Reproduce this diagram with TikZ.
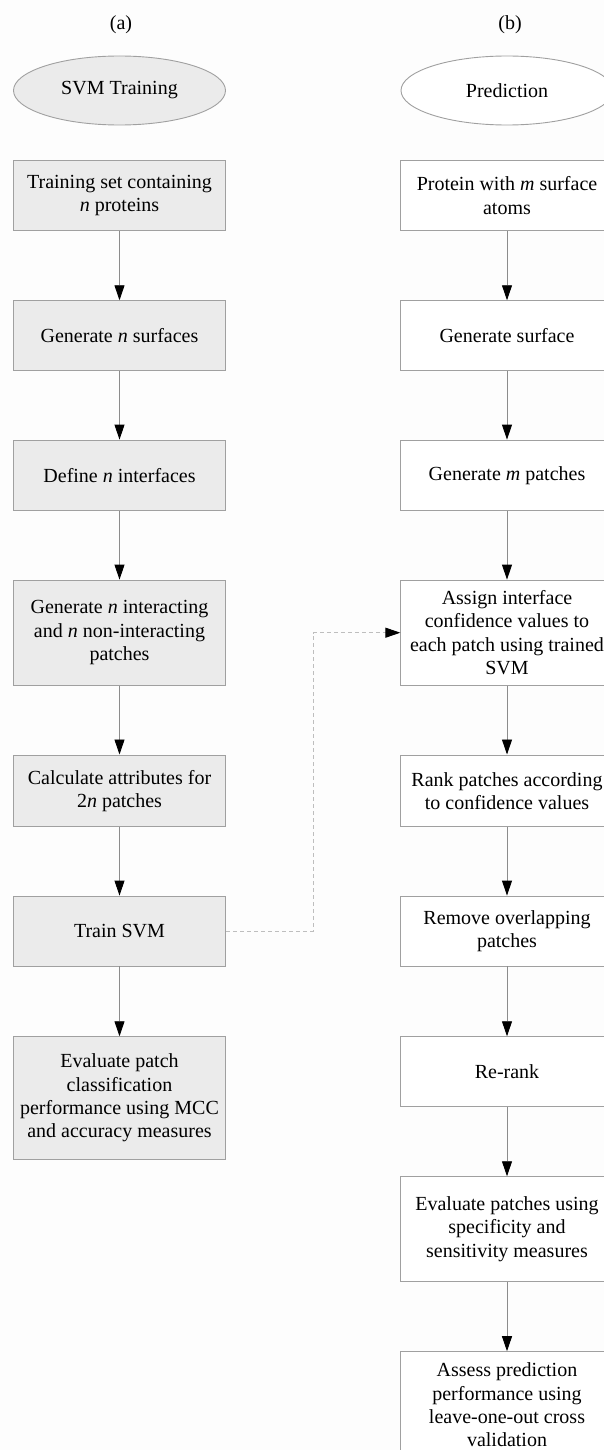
\documentclass[tikz,border=0pt]{standalone}
\usepackage{fontspec}
\setmainfont{Liberation Serif}
\usetikzlibrary{shapes.geometric,arrows.meta}
\definecolor{bg}{RGB}{253,253,253}
\definecolor{boxgray}{RGB}{235,235,235}
\definecolor{edgegray}{RGB}{160,160,160}
\definecolor{linegray}{RGB}{140,140,140}
\definecolor{dashgray}{RGB}{190,190,190}
\tikzset{
  every node/.style={font=\fontsize{20}{23.3}\selectfont},
  basebox/.style={rectangle, draw=edgegray, line width=0.9pt, minimum width=212.4pt, align=center, inner sep=0pt},
  lbox/.style={basebox, fill=boxgray},
  rbox/.style={basebox, fill=white},
  oval/.style={ellipse, draw=edgegray, line width=0.9pt, minimum width=212pt, minimum height=69pt, inner sep=0pt},
  flow/.style={draw=linegray, line width=0.9pt, -{Triangle[length=15pt,width=10pt,color=black,fill=black]}},
  link/.style={draw=dashgray, line width=1pt, dash pattern=on 4pt off 3pt, -{Triangle[length=15pt,width=10pt,color=black,fill=black]}},
  lbl/.style={inner sep=0pt}
}
\begin{document}
\begin{tikzpicture}[x=1pt,y=-1pt]
\useasboundingbox (0,0) rectangle (604,1450);
\clip (0,0) rectangle (604,1450);
\fill[bg] (0,0) rectangle (604,1450);

\node[lbl] (la) at (121,25) {(a)};
\node[lbl] (lb) at (510,25) {(b)};

\node[oval, fill=boxgray] (E1) at (119.5,90.5) {SVM Training};
\node[oval, fill=white] (E2) at (507,90.5) {Prediction};

% left column
\node[lbox, minimum height=70.4pt] (L1) at (119.5,195.5) {Training set containing\\\textit{n} proteins};
\node[lbox, minimum height=69.6pt] (L2) at (119.5,335.5) {Generate \textit{n} surfaces};
\node[lbox, minimum height=70.3pt] (L3) at (119.5,475.2) {Define \textit{n} interfaces};
\node[lbox, minimum height=105.3pt] (L4) at (119.5,632.7) {Generate \textit{n} interacting\\and \textit{n} non-interacting\\patches};
\node[lbox, minimum height=71.7pt] (L5) at (119.5,790.8) {Calculate attributes for\\2\textit{n} patches};
\node[lbox, minimum height=70pt] (L6) at (119.5,931) {Train SVM};
\node[lbox, minimum height=122.6pt] (L7) at (119.5,1098) {Evaluate patch\\classification\\performance using MCC\\and accuracy measures};

% right column
\node[rbox, minimum height=70.4pt] (R1) at (507,195.5) {Protein with \textit{m} surface\\atoms};
\node[rbox, minimum height=69.6pt] (R2) at (507,335.5) {Generate surface};
\node[rbox, minimum height=70.3pt] (R3) at (507,475.2) {Generate \textit{m} patches};
\node[rbox, minimum height=105.3pt] (R4) at (507,632.7) {Assign interface\\confidence values to\\each patch using trained\\SVM};
\node[rbox, minimum height=71.7pt] (R5) at (507,790.8) {Rank patches according\\to confidence values};
\node[rbox, minimum height=70pt] (R6) at (507,931) {Remove overlapping\\patches};
\node[rbox, minimum height=70pt] (R7) at (507,1071.7) {Re-rank};
\node[rbox, minimum height=105pt] (R8) at (507,1229.2) {Evaluate patches using\\specificity and\\sensitivity measures};
\node[rbox, minimum height=106.3pt] (R9) at (507,1404.8) {Assess prediction\\performance using\\leave-one-out cross\\validation};

% connectors
\foreach \a/\b in {L1/L2,L2/L3,L3/L4,L4/L5,L5/L6,L6/L7,R1/R2,R2/R3,R3/R4,R4/R5,R5/R6,R6/R7,R7/R8,R8/R9}
  \draw[flow] (\a.south) -- (\b.north);

\coordinate (d1) at (313,931);
\coordinate (d2) at (313,632.7);
\draw[link] (L6.east) -- (d1) -- (d2) -- (R4.west);
\end{tikzpicture}
\end{document}
